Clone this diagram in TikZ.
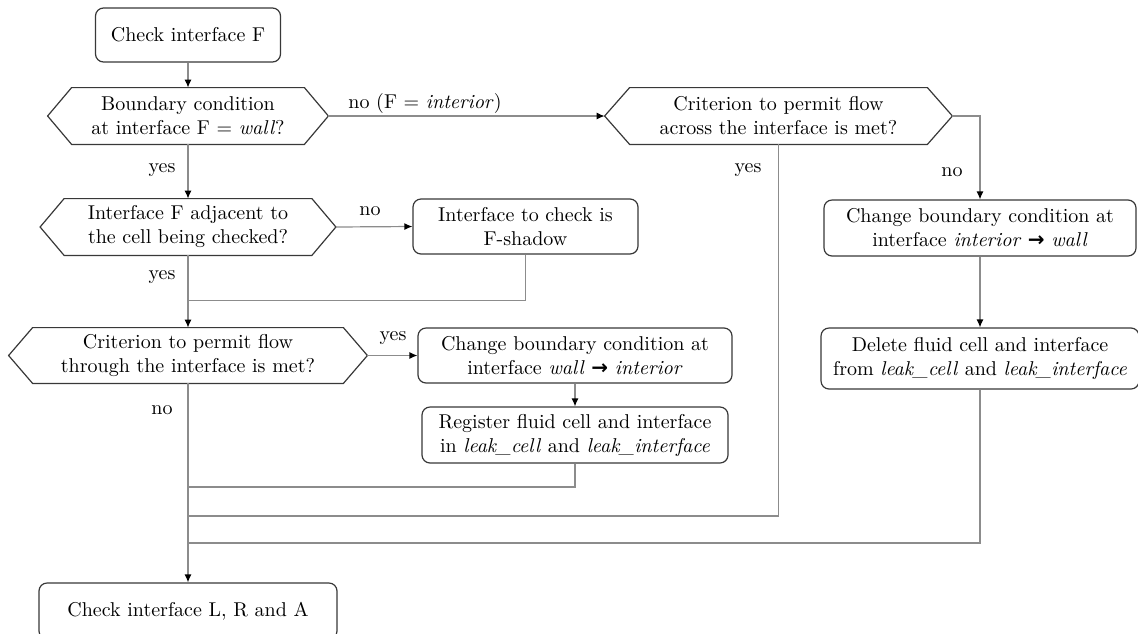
\documentclass[tikz,border=0pt]{standalone}
\usepackage{fontspec}
\newfontfamily\arrfont{DejaVu Sans}
\usetikzlibrary{arrows.meta,calc}
\definecolor{boxc}{gray}{0.22}
\definecolor{linec}{gray}{0.55}
\newcommand{\rarr}{{\arrfont\bfseries →}}
\newcommand{\hexa}[2]{%
  \draw[hexline] (#1.north west) -- (#1.north east) -- ($(#1.east)+(#2,0)$) -- (#1.south east)
    -- (#1.south west) -- ($(#1.west)-(#2,0)$) -- cycle;
  \coordinate (#1L) at ($(#1.west)-(#2,0)$);
  \coordinate (#1R) at ($(#1.east)+(#2,0)$);}
\begin{document}
\begin{tikzpicture}[x=0.5pt,y=-0.5pt,
  box/.style={draw=boxc, line width=0.6pt, rounded corners=4pt, align=center, inner sep=0pt,
    text width=#1, minimum height=28pt},
  dec/.style={rectangle, inner sep=0pt, align=center, text width=#1, minimum height=28pt},
  hexline/.style={draw=boxc, line width=0.6pt},
  conn/.style={draw=linec, line width=0.6pt},
  arr/.style={conn, -{Latex[length=4pt,width=3.5pt,color=black]}},
  lbl/.style={inner sep=0pt}]
\useasboundingbox (0,0) rectangle (1138,633);

% nodes
\node[box=92.5pt, minimum height=27pt] (n1) at (188,35) {Check interface F};
\node[dec=116pt] (d1) at (188,116) {Boundary condition\\at interface F $=$ \textit{wall}?};
\hexa{d1}{24}
\node[dec=148.5pt] (d3) at (778.5,116) {Criterion to permit flow\\across the interface is met?};
\hexa{d3}{25}
\node[dec=123.5pt] (d4) at (188,227) {Interface F adjacent to\\the cell being checked?};
\hexa{d4}{24}
\node[box=112.5pt, minimum height=27.5pt] (fs) at (525.5,226.5) {Interface to check is\\F-shadow};
\node[dec=155pt, minimum height=27.5pt] (d5) at (188,355.5) {Criterion to permit flow\\through the interface is met?};
\hexa{d5}{24}
\node[box=157pt, minimum height=27.5pt] (cw) at (575,355.5) {Change boundary condition at\\interface \textit{wall} \rarr{} \textit{interior}};
\node[box=153pt] (reg) at (575,435) {Register fluid cell and interface\\in \textit{leak\_cell} and \textit{leak\_interface}};
\node[box=156pt] (ciw) at (980,228) {Change boundary condition at\\interface \textit{interior} \rarr{} \textit{wall}};
\node[box=159pt, minimum height=30.5pt] (del) at (980,358.5) {Delete fluid cell and interface\\from \textit{leak\_cell} and \textit{leak\_interface}};
\node[box=149pt] (bot) at (188,611) {Check interface L, R and A};

% junction coordinates
\coordinate (j1) at (188,300.5);
\coordinate (j2) at (188,487);
\coordinate (j3) at (188,516);
\coordinate (j4) at (188,543);

% connectors
\draw[arr] (n1.south) -- (d1.north);
\draw[arr] (d1R) -- (d3L);
\draw[arr] (d1.south) -- (d4.north);
\draw[arr] (d4R) -- (fs.west);
\draw[arr] (d4.south) -- (d5.north);
\draw[conn] (fs.south) |- (j1);
\draw[arr] (d5R) -- (cw.west);
\draw[arr] (cw.south) -- (reg.north);
\draw[arr] (d5.south) -- (bot.north);
\draw[conn] (reg.south) |- (j2);
\draw[conn] (d3.south) |- (j3);
\draw[arr] (d3R) -| (ciw.north);
\draw[arr] (ciw.south) -- (del.north);
\draw[conn] (del.south) |- (j4);

% labels
\node[lbl] (l1) at (425,103) {no (F $=$ \textit{interior})};
\node[lbl] (l2) at (162,170) {yes};
\node[lbl] (l3) at (370,211) {no};
\node[lbl] (l4) at (162,277) {yes};
\node[lbl] (l5) at (393,338) {yes};
\node[lbl] (l6) at (162,410) {no};
\node[lbl] (l7) at (748,170) {yes};
\node[lbl] (l8) at (952,172) {no};
\end{tikzpicture}
\end{document}
